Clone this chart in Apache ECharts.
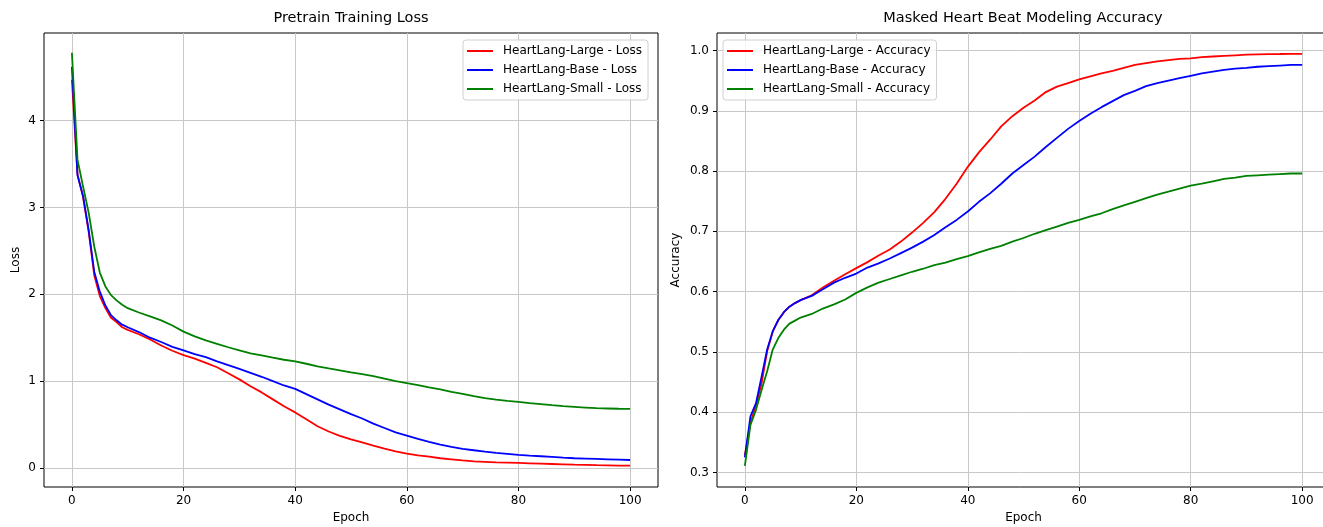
<!DOCTYPE html>
<html>
<head>
<meta charset="utf-8">
<script src="https://cdn.jsdelivr.net/npm/echarts@6/dist/echarts.min.js"></script>
<style>
html,body{margin:0;padding:0;background:#fff;}
#chart{width:1323px;height:527px;}
</style>
</head>
<body>
<div id="chart"></div>
<script>
var epochs = [0,1,2,3,4,5,6,7,8,9,10,12,14,16,18,20,22,24,26,28,30,32,34,36,38,40,42,44,46,48,50,52,54,56,58,60,62,64,66,68,70,72,74,76,78,80,82,84,86,88,90,92,94,96,98,100];

var lossLarge = [4.47,3.38,3.12,2.72,2.22,1.98,1.84,1.73,1.68,1.62,1.59,1.54,1.48,1.41,1.35,1.30,1.26,1.21,1.16,1.09,1.02,0.94,0.87,0.79,0.71,0.64,0.56,0.48,0.42,0.37,0.33,0.296,0.258,0.223,0.192,0.165,0.146,0.131,0.112,0.100,0.088,0.077,0.071,0.065,0.062,0.058,0.054,0.050,0.046,0.042,0.038,0.035,0.032,0.030,0.028,0.027];
var lossBase = [4.62,3.37,3.13,2.74,2.26,2.03,1.87,1.76,1.70,1.65,1.62,1.565,1.50,1.45,1.395,1.353,1.31,1.277,1.227,1.185,1.14,1.095,1.05,1.00,0.95,0.91,0.85,0.79,0.73,0.675,0.62,0.57,0.51,0.46,0.41,0.373,0.335,0.30,0.27,0.242,0.22,0.204,0.188,0.173,0.162,0.150,0.142,0.135,0.127,0.119,0.112,0.108,0.104,0.100,0.096,0.092];
var lossSmall = [4.78,3.55,3.24,2.94,2.55,2.25,2.09,1.99,1.93,1.88,1.84,1.79,1.745,1.70,1.64,1.57,1.515,1.47,1.43,1.39,1.355,1.32,1.296,1.27,1.246,1.227,1.20,1.17,1.146,1.123,1.10,1.08,1.058,1.03,1.00,0.977,0.954,0.927,0.904,0.877,0.854,0.827,0.804,0.788,0.773,0.762,0.746,0.735,0.723,0.712,0.704,0.696,0.688,0.685,0.682,0.681];

var accLarge = [0.329,0.382,0.412,0.448,0.501,0.534,0.553,0.566,0.575,0.581,0.586,0.594,0.607,0.618,0.629,0.639,0.649,0.660,0.670,0.683,0.698,0.714,0.732,0.754,0.779,0.807,0.831,0.852,0.874,0.891,0.905,0.917,0.931,0.940,0.946,0.952,0.957,0.962,0.966,0.971,0.976,0.979,0.982,0.984,0.986,0.987,0.989,0.990,0.991,0.992,0.993,0.9935,0.994,0.9942,0.9945,0.9945];
var accBase = [0.325,0.393,0.415,0.459,0.504,0.534,0.553,0.566,0.575,0.581,0.586,0.593,0.604,0.615,0.623,0.630,0.640,0.647,0.655,0.664,0.673,0.683,0.694,0.707,0.719,0.733,0.749,0.763,0.779,0.796,0.810,0.824,0.840,0.855,0.870,0.883,0.895,0.906,0.916,0.926,0.933,0.941,0.946,0.950,0.954,0.958,0.962,0.965,0.968,0.970,0.971,0.973,0.974,0.975,0.976,0.976];
var accSmall = [0.311,0.379,0.404,0.437,0.468,0.504,0.523,0.537,0.547,0.552,0.557,0.563,0.572,0.579,0.587,0.598,0.607,0.615,0.621,0.627,0.633,0.638,0.644,0.648,0.654,0.659,0.665,0.671,0.676,0.683,0.689,0.696,0.702,0.708,0.714,0.719,0.725,0.730,0.737,0.743,0.749,0.755,0.761,0.766,0.771,0.776,0.779,0.783,0.787,0.789,0.792,0.793,0.794,0.795,0.796,0.796];

var xTicks = [0,20,40,60,80,100];
var lossTicks = [0,1,2,3,4];
var accTicks = [0.3,0.4,0.5,0.6,0.7,0.8,0.9,1.0];

var lossNames = ['HeartLang-Large - Loss','HeartLang-Base - Loss','HeartLang-Small - Loss'];
var accNames = ['HeartLang-Large - Accuracy','HeartLang-Base - Accuracy','HeartLang-Small - Accuracy'];
var colors = ['#ff0000','#0000ff','#008000'];

function pairs(xs, ys){ return xs.map(function(x,i){ return [x, ys[i]]; }); }

var FONT = 'DejaVu Sans';

function xAxisCfg(gi){
  return {
    type:'value', gridIndex:gi, min:-5, max:105,
    name:'Epoch', nameLocation:'middle', nameGap:23,
    nameTextStyle:{fontFamily:FONT, fontSize:12, color:'#000'},
    axisLine:{show:false, onZero:false},
    axisTick:{show:true, length:4, inside:false, customValues:xTicks, lineStyle:{color:'#000', width:1}},
    axisLabel:{customValues:xTicks, margin:8, fontFamily:FONT, fontSize:12, color:'#000'},
    splitLine:{show:true, lineStyle:{color:'#c8c8c8', width:1}}
  };
}
function yAxisCfg(gi, min, max, ticks, name, gap, fmt){
  return {
    type:'value', gridIndex:gi, min:min, max:max,
    name:name, nameLocation:'middle', nameGap:gap, nameRotate:90,
    nameTextStyle:{fontFamily:FONT, fontSize:12, color:'#000'},
    axisLine:{show:false, onZero:false},
    axisTick:{show:true, length:4, inside:false, customValues:ticks, lineStyle:{color:'#000', width:1}},
    axisLabel:{customValues:ticks, margin:8, fontFamily:FONT, fontSize:12, color:'#000', formatter:fmt},
    splitLine:{show:true, lineStyle:{color:'#c8c8c8', width:1}}
  };
}
function legendCfg(left, names){
  return {
    orient:'vertical', left:left, top:40, padding:[4,6,4,4],
    itemWidth:26, itemHeight:2, itemGap:5, icon:'rect',
    backgroundColor:'rgba(255,255,255,0.8)', borderColor:'#d0d0d0', borderWidth:1, borderRadius:3,
    textStyle:{fontFamily:FONT, fontSize:12, color:'#000', lineHeight:14, padding:[0,0,0,5]},
    data:names
  };
}
function lineSeries(name, xi, data, color){
  return {
    type:'line', name:name, xAxisIndex:xi, yAxisIndex:xi, data:data,
    showSymbol:false, symbol:'none', smooth:false, color:color,
    lineStyle:{color:color, width:1.8}, animation:false
  };
}

var chart = echarts.init(document.getElementById('chart'), null, {renderer:'canvas'});
chart.setOption({
  animation:false,
  backgroundColor:'#fff',
  title:[
    {text:'Pretrain Training Loss', left:351, top:11, textAlign:'center', padding:0,
     textStyle:{fontFamily:FONT, fontSize:14.5, fontWeight:'normal', color:'#000'}},
    {text:'Masked Heart Beat Modeling Accuracy', left:1023, top:11, textAlign:'center', padding:0,
     textStyle:{fontFamily:FONT, fontSize:14.5, fontWeight:'normal', color:'#000'}}
  ],
  legend:[legendCfg(463, lossNames), legendCfg(723, accNames)],
  grid:[
    {left:44, top:33, width:614, height:454, show:true, borderColor:'#000', borderWidth:1, backgroundColor:'transparent', containLabel:false, outerBoundsMode:'none'},
    {left:717, top:33, width:613, height:454, show:true, borderColor:'#000', borderWidth:1, backgroundColor:'transparent', containLabel:false, outerBoundsMode:'none'}
  ],
  xAxis:[xAxisCfg(0), xAxisCfg(1)],
  yAxis:[
    yAxisCfg(0, -0.219, 5.008, lossTicks, 'Loss', 22, function(v){ return String(v); }),
    yAxisCfg(1, 0.276, 1.029, accTicks, 'Accuracy', 35, function(v){ return v.toFixed(1); })
  ],
  series:[
    lineSeries(lossNames[0], 0, pairs(epochs, lossLarge), colors[0]),
    lineSeries(lossNames[1], 0, pairs(epochs, lossBase), colors[1]),
    lineSeries(lossNames[2], 0, pairs(epochs, lossSmall), colors[2]),
    lineSeries(accNames[0], 1, pairs(epochs, accLarge), colors[0]),
    lineSeries(accNames[1], 1, pairs(epochs, accBase), colors[1]),
    lineSeries(accNames[2], 1, pairs(epochs, accSmall), colors[2])
  ]
});
</script>
</body>
</html>
